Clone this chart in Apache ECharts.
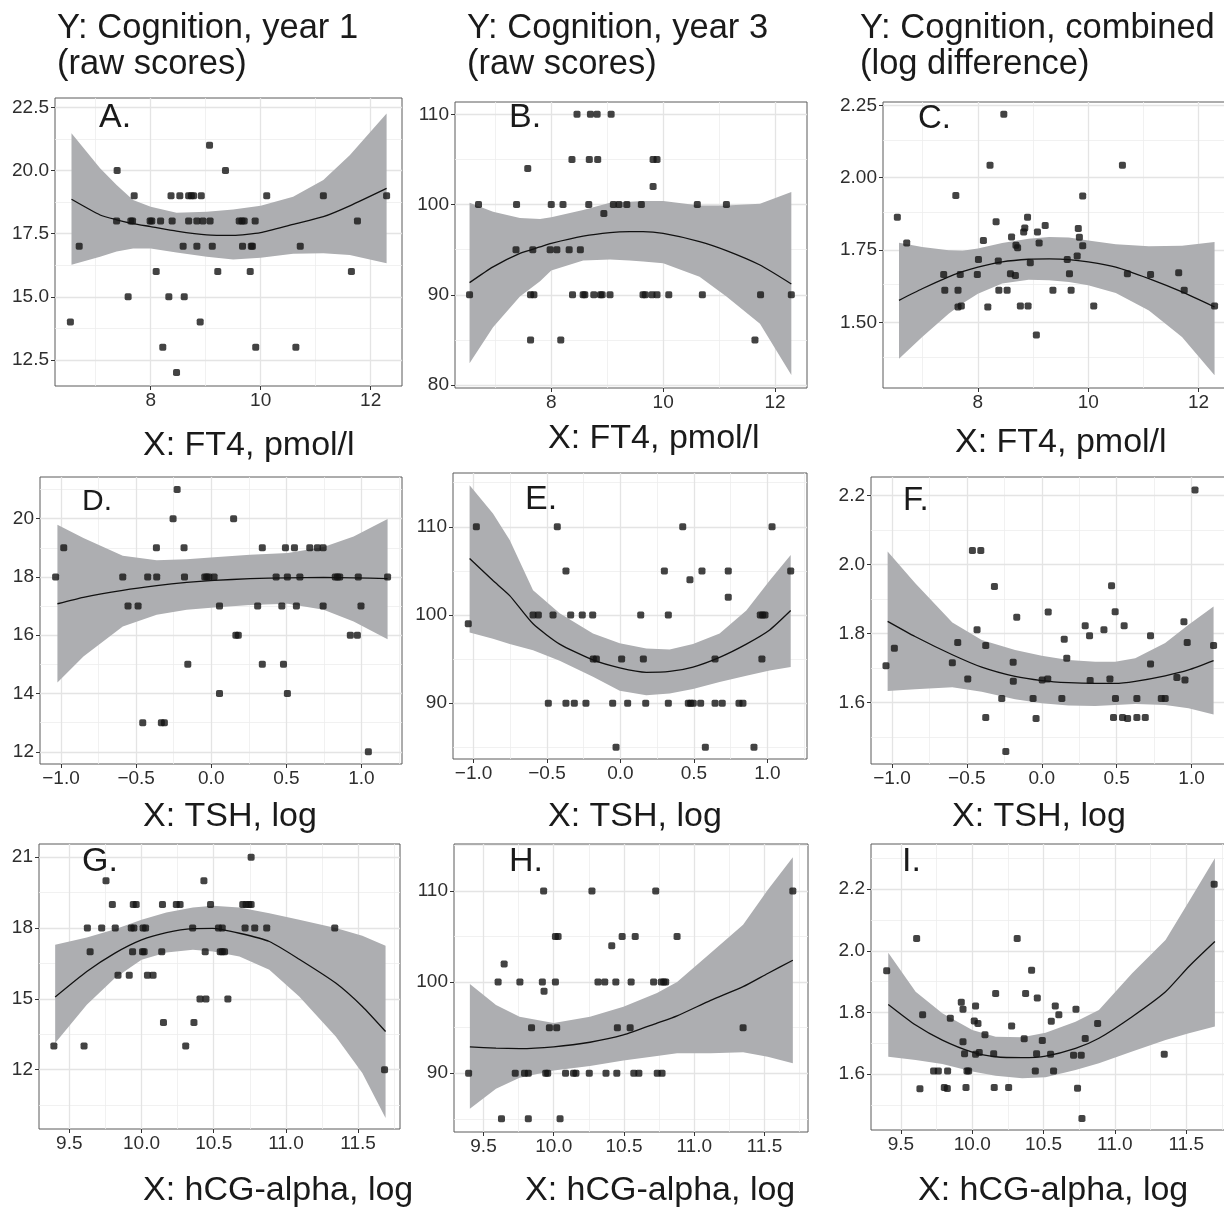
<!DOCTYPE html>
<html>
<head>
<meta charset="utf-8">
<script src="https://cdn.jsdelivr.net/npm/echarts@6/dist/echarts.min.js"></script>
<style>
  html, body { margin: 0; padding: 0; background: #fff; }
  #chart { width: 1224px; height: 1209px; }
</style>
</head>
<body>
<div id="chart"></div>
<script>
// ---- data ----
// row 1: x = FT4
const ptsA = [[6.54,14],[6.70,17],[7.39,20],[7.38,18],[7.59,15],[7.64,18],[7.67,18],[7.70,19],[7.99,18],[8.02,18],[8.10,16],[8.18,18],[8.22,13],[8.33,15],[8.37,19],[8.39,18],[8.47,12],[8.53,19],[8.59,17],[8.61,15],[8.69,18],[8.69,19],[8.74,19],[8.78,19],[8.84,17],[8.84,18],[8.90,14],[8.92,19],[8.95,18],[9.07,21],[9.08,18],[9.12,17],[9.22,16],[9.36,20],[9.61,18],[9.66,18],[9.70,18],[9.67,17],[9.81,16],[9.83,17],[9.85,17],[9.90,18],[9.91,13],[10.11,19],[10.64,13],[10.72,17],[11.14,19],[11.65,16],[11.76,18],[12.29,19]];
const fitAx = [6.56, 7.08, 7.38, 7.68, 8.0, 8.47, 9.02, 9.50, 10.0, 10.59, 11.14, 11.62, 12.29];
const fitA = [18.86, 18.24, 18.05, 17.9, 17.78, 17.6, 17.45, 17.43, 17.54, 17.87, 18.17, 18.6, 19.29];
const hiA = [21.47, 20.09, 19.43, 18.83, 18.57, 18.33, 18.37, 18.46, 18.6, 18.96, 19.62, 20.6, 22.26];
const loA = [16.27, 16.59, 16.79, 16.91, 16.91, 16.75, 16.59, 16.48, 16.55, 16.7, 16.72, 16.66, 16.33];

const ptsB = [[6.54,90],[6.70,100],[7.38,100],[7.37,95],[7.58,104],[7.63,90],[7.69,90],[7.63,85],[7.67,95],[7.98,95],[8.00,100],[8.10,95],[8.17,85],[8.21,100],[8.32,95],[8.37,105],[8.38,90],[8.46,110],[8.52,95],[8.57,90],[8.60,90],[8.67,100],[8.68,105],[8.70,110],[8.76,90],[8.82,110],[8.83,105],[8.88,90],[8.91,90],[8.94,99],[9.05,90],[9.07,110],[9.11,100],[9.21,100],[9.35,100],[9.61,100],[9.64,90],[9.68,90],[9.80,90],[9.82,102],[9.82,105],[9.89,105],[9.89,90],[10.10,90],[10.61,100],[10.70,90],[11.13,100],[11.64,85],[11.74,90],[12.29,90]];
const fitBx = [6.54, 6.96, 7.44, 7.80, 8.0, 8.57, 9.05, 9.40, 9.64, 10.0, 10.65, 11.13, 11.73, 12.29];
const fitB = [91.35, 93.1, 94.6, 95.3, 95.7, 96.5, 96.9, 97.0, 97.0, 96.8, 95.9, 94.9, 93.3, 91.2];
const hiB = [100.2, 99.2, 98.5, 98.4, 98.6, 99.4, 100.2, 100.3, 100.4, 100.4, 99.9, 99.9, 100.1, 101.4];
const loB = [82.4, 86.4, 89.8, 91.5, 92.7, 93.8, 93.9, 93.8, 93.7, 93.5, 92.0, 89.8, 86.8, 81.1];

const ptsC = [[6.54,1.863],[6.71,1.774],[7.38,1.665],[7.40,1.611],[7.60,1.938],[7.64,1.611],[7.64,1.553],[7.68,1.665],[7.70,1.556],[7.99,1.665],[8.01,1.717],[8.10,1.783],[8.18,1.553],[8.22,2.043],[8.33,1.848],[8.37,1.712],[8.38,1.611],[8.47,2.219],[8.53,1.611],[8.59,1.668],[8.61,1.795],[8.68,1.662],[8.69,1.766],[8.72,1.758],[8.77,1.556],[8.83,1.812],[8.85,1.826],[8.90,1.863],[8.91,1.556],[8.95,1.706],[9.06,1.456],[9.08,1.812],[9.11,1.774],[9.22,1.835],[9.36,1.611],[9.62,1.717],[9.66,1.668],[9.69,1.611],[9.80,1.729],[9.82,1.824],[9.84,1.794],[9.90,1.765],[9.90,1.937],[10.10,1.556],[10.62,2.043],[10.71,1.668],[11.13,1.665],[11.64,1.671],[11.74,1.611],[12.29,1.556]];
const fitCx = [6.57, 6.99, 7.47, 7.72, 8.0, 8.44, 8.92, 9.29, 9.65, 10.0, 10.5, 11.1, 11.7, 12.29];
const fitC = [1.576, 1.616, 1.657, 1.675, 1.691, 1.709, 1.718, 1.719, 1.717, 1.709, 1.691, 1.651, 1.605, 1.553];
const hiC = [1.775, 1.760, 1.749, 1.747, 1.755, 1.774, 1.789, 1.795, 1.793, 1.783, 1.770, 1.763, 1.765, 1.778];
const loC = [1.374, 1.449, 1.530, 1.565, 1.599, 1.634, 1.647, 1.645, 1.639, 1.628, 1.601, 1.541, 1.449, 1.317];

// row 2: x = TSH, log
const ptsD = [[-1.036,18],[-0.982,19],[-0.589,18],[-0.554,17],[-0.487,17],[-0.456,13],[-0.423,18],[-0.365,19],[-0.363,18],[-0.332,13],[-0.312,13],[-0.254,20],[-0.227,21],[-0.181,19],[-0.178,18],[-0.156,15],[-0.043,18],[-0.030,18],[-0.016,18],[0.019,18],[0.055,17],[0.055,14],[0.149,20],[0.164,16],[0.180,16],[0.309,17],[0.340,19],[0.340,15],[0.432,18],[0.470,17],[0.481,15],[0.494,19],[0.507,18],[0.507,14],[0.554,19],[0.567,17],[0.590,18],[0.656,19],[0.707,19],[0.745,19],[0.745,17],[0.826,18],[0.841,18],[0.855,18],[0.926,16],[0.973,16],[0.979,18],[0.997,17],[1.046,12],[1.174,18]];
const fitDx = [-1.024, -0.851, -0.589, -0.363, -0.163, 0.019, 0.259, 0.510, 0.748, 0.948, 1.174];
const fitD = [17.08, 17.30, 17.54, 17.70, 17.81, 17.88, 17.94, 17.97, 17.98, 17.97, 17.94];
const hiD = [19.79, 19.34, 18.73, 18.57, 18.61, 18.68, 18.76, 18.82, 19.03, 19.39, 19.99];
const loD = [14.38, 15.27, 16.30, 16.70, 16.87, 16.95, 17.04, 17.08, 16.87, 16.47, 15.86];

const ptsE = [[-1.036,99],[-0.981,110],[-0.595,100],[-0.559,100],[-0.491,90],[-0.459,100],[-0.430,110],[-0.371,105],[-0.371,90],[-0.339,100],[-0.314,90],[-0.260,100],[-0.235,90],[-0.189,100],[-0.185,95],[-0.164,95],[-0.053,90],[-0.030,85],[0.008,95],[0.049,90],[0.138,100],[0.156,95],[0.172,90],[0.299,105],[0.326,100],[0.326,90],[0.424,110],[0.462,90],[0.478,90],[0.496,90],[0.473,104],[0.546,90],[0.555,105],[0.578,85],[0.644,95],[0.644,90],[0.693,90],[0.734,105],[0.734,102],[0.807,90],[0.834,90],[0.909,85],[0.952,100],[0.968,100],[0.984,100],[0.963,95],[1.032,110],[1.159,105]];
const fitEx = [-1.027, -0.868, -0.754, -0.595, -0.414, -0.187, -0.005, 0.176, 0.335, 0.494, 0.675, 0.857, 1.016, 1.159];
const fitE = [106.4, 103.9, 102.2, 99.0, 96.7, 94.9, 94.0, 93.5, 93.6, 94.1, 95.2, 96.7, 98.3, 100.5];
const hiE = [114.7, 111.5, 108.5, 102.8, 100.2, 97.9, 96.8, 96.2, 96.1, 96.7, 97.9, 100.5, 103.9, 106.8];
const loE = [98.0, 97.3, 96.7, 96.0, 94.8, 93.0, 91.4, 90.9, 91.1, 91.6, 92.4, 93.1, 93.7, 94.1];

const ptsF = [[-1.040,1.706],[-0.984,1.757],[-0.597,1.715],[-0.561,1.774],[-0.494,1.668],[-0.463,2.041],[-0.432,1.811],[-0.407,2.041],[-0.374,1.765],[-0.374,1.556],[-0.316,1.936],[-0.267,1.611],[-0.240,1.457],[-0.191,1.716],[-0.190,1.661],[-0.167,1.847],[-0.058,1.611],[-0.038,1.553],[0.003,1.665],[0.040,1.668],[0.043,1.862],[0.134,1.611],[0.150,1.783],[0.167,1.728],[0.290,1.822],[0.319,1.793],[0.323,1.663],[0.415,1.811],[0.455,1.668],[0.466,1.938],[0.479,1.556],[0.490,1.863],[0.492,1.611],[0.539,1.556],[0.550,1.822],[0.573,1.553],[0.635,1.611],[0.635,1.556],[0.691,1.556],[0.726,1.793],[0.726,1.711],[0.798,1.611],[0.824,1.611],[0.902,1.672],[0.949,1.834],[0.956,1.665],[0.971,1.774],[1.023,2.216],[1.147,1.765]];
const fitFx = [-1.029, -0.846, -0.597, -0.401, -0.178, 0.0, 0.178, 0.357, 0.490, 0.624, 0.824, 0.980, 1.147];
const fitF = [1.835, 1.791, 1.738, 1.702, 1.675, 1.663, 1.657, 1.655, 1.655, 1.661, 1.677, 1.694, 1.721];
const hiF = [2.038, 1.946, 1.832, 1.781, 1.752, 1.735, 1.723, 1.718, 1.718, 1.728, 1.772, 1.825, 1.878];
const loF = [1.633, 1.638, 1.644, 1.631, 1.609, 1.597, 1.591, 1.589, 1.592, 1.595, 1.592, 1.583, 1.565];

// row 3: x = hCG-alpha, log
const ptsG = [[9.393,13],[9.602,13],[9.625,18],[9.644,17],[9.724,18],[9.754,20],[9.798,19],[9.818,18],[9.837,16],[9.915,16],[9.929,18],[9.938,17],[9.943,19],[9.947,18],[9.963,19],[10.007,17],[10.018,17],[10.011,18],[10.028,18],[10.041,16],[10.080,16],[10.140,17],[10.145,19],[10.152,14],[10.241,19],[10.267,19],[10.306,13],[10.354,18],[10.363,14],[10.405,15],[10.432,20],[10.441,17],[10.446,15],[10.478,19],[10.533,18],[10.559,18],[10.545,17],[10.559,17],[10.575,17],[10.598,15],[10.701,19],[10.724,19],[10.743,19],[10.759,19],[10.717,18],[10.759,21],[10.784,18],[10.867,18],[11.338,18],[11.683,12]];
const fitGx = [9.402, 9.621, 9.816, 10.0, 10.172, 10.356, 10.494, 10.678, 10.885, 11.092, 11.345, 11.529, 11.690];
const fitG = [15.08, 16.16, 16.94, 17.50, 17.81, 17.98, 17.99, 17.78, 17.43, 16.68, 15.67, 14.68, 13.62];
const hiG = [17.29, 17.60, 17.95, 18.35, 18.66, 18.87, 18.95, 18.87, 18.63, 18.35, 18.00, 17.67, 17.25];
const loG = [13.13, 14.75, 15.88, 16.66, 16.97, 17.08, 17.01, 16.80, 16.23, 15.10, 13.41, 11.86, 9.96];

const ptsH = [[9.394,90],[9.604,100],[9.628,85],[9.647,102],[9.726,90],[9.759,100],[9.792,90],[9.819,90],[9.819,85],[9.842,95],[9.919,100],[9.928,110],[9.931,99],[9.943,90],[9.957,90],[9.969,95],[10.012,100],[10.012,105],[10.031,105],[10.021,95],[10.045,85],[10.084,90],[10.141,90],[10.158,90],[10.253,90],[10.272,110],[10.315,100],[10.363,100],[10.372,90],[10.413,104],[10.442,100],[10.449,90],[10.453,95],[10.487,105],[10.544,95],[10.551,100],[10.570,90],[10.580,105],[10.606,90],[10.711,100],[10.726,110],[10.737,90],[10.771,90],[10.766,100],[10.783,100],[10.797,100],[10.878,105],[11.348,95],[11.702,110]];
const fitHx = [9.403, 9.589, 9.757, 10.0, 10.258, 10.496, 10.735, 10.878, 11.117, 11.348, 11.523, 11.702];
const fitH = [92.9, 92.75, 92.7, 92.9, 93.4, 94.2, 95.5, 96.3, 98.0, 99.5, 100.95, 102.4];
const hiH = [99.8, 97.5, 96.2, 95.5, 96.2, 97.3, 98.8, 100.0, 103.2, 106.3, 110.1, 113.7];
const loH = [86.1, 88.3, 89.5, 90.3, 90.8, 91.4, 91.9, 92.2, 92.2, 92.3, 91.8, 91.1];

const ptsI = [[9.400,1.935],[9.610,2.040],[9.633,1.552],[9.652,1.792],[9.729,1.610],[9.762,1.610],[9.804,1.556],[9.825,1.553],[9.827,1.610],[9.846,1.781],[9.923,1.833],[9.935,1.810],[9.935,1.705],[9.946,1.666],[9.956,1.556],[9.963,1.610],[9.974,1.610],[10.014,1.772],[10.023,1.821],[10.023,1.664],[10.040,1.764],[10.049,1.670],[10.089,1.727],[10.150,1.666],[10.154,1.556],[10.164,1.861],[10.255,1.556],[10.276,1.756],[10.315,2.040],[10.364,1.714],[10.374,1.861],[10.416,1.937],[10.442,1.610],[10.451,1.666],[10.456,1.847],[10.491,1.709],[10.549,1.664],[10.554,1.771],[10.570,1.610],[10.582,1.821],[10.607,1.792],[10.710,1.661],[10.727,1.810],[10.738,1.554],[10.764,1.661],[10.769,1.455],[10.792,1.715],[10.879,1.764],[11.346,1.664],[11.696,2.216]];
const fitIx = [9.411, 9.603, 9.790, 10.0, 10.164, 10.350, 10.514, 10.724, 10.888, 11.121, 11.355, 11.519, 11.701];
const fitI = [1.826, 1.759, 1.710, 1.671, 1.656, 1.653, 1.658, 1.683, 1.716, 1.786, 1.867, 1.949, 2.030];
const hiI = [1.994, 1.867, 1.797, 1.743, 1.721, 1.719, 1.734, 1.770, 1.808, 1.927, 2.035, 2.160, 2.301];
const loI = [1.656, 1.645, 1.632, 1.608, 1.594, 1.586, 1.589, 1.613, 1.635, 1.673, 1.710, 1.732, 1.754];

// tick values
const xTicksFT4 = [8, 10, 12], xMinorFT4 = [7, 9, 11];
const xTicksTSH = [-1, -0.5, 0, 0.5, 1], xMinorTSH = [-0.75, -0.25, 0.25, 0.75, 1.25];
const xTicksHCG = [9.5, 10, 10.5, 11, 11.5], xMinorHCG = [9.75, 10.25, 10.75, 11.25, 11.75];
const yTicksA = [12.5, 15, 17.5, 20, 22.5], yMinorA = [13.75, 16.25, 18.75, 21.25];
const yTicksB = [80, 90, 100, 110], yMinorB = [85, 95, 105];
const yTicksC = [1.5, 1.75, 2, 2.25], yMinorC = [1.375, 1.625, 1.875, 2.125];
const yTicksD = [12, 14, 16, 18, 20], yMinorD = [13, 15, 17, 19, 21];
const yTicksE = [90, 100, 110], yMinorE = [85, 95, 105, 115];
const yTicksF = [1.6, 1.8, 2.0, 2.2], yMinorF = [1.5, 1.7, 1.9, 2.1];
const yTicksG = [12, 15, 18, 21], yMinorG = [10.5, 13.5, 16.5, 19.5];
const yTicksH = [90, 100, 110], yMinorH = [85, 95, 105, 115];
const yTicksI = [1.6, 1.8, 2.0, 2.2], yMinorI = [1.5, 1.7, 1.9, 2.1, 2.3];

const colTitles = [['Y: Cognition, year 1', '(raw scores)'], ['Y: Cognition, year 3', '(raw scores)'], ['Y: Cognition, combined', '(log difference)']];
const xTitles = ['X: FT4, pmol/l', 'X: TSH, log', 'X: hCG-alpha, log'];

// ---- layout ----
const FONT = '"Liberation Sans", Arial, Helvetica, sans-serif';
const BAND = '#adaeb1';
const fmt0 = v => String(v);
const fmt1 = v => (v < 0 ? '\u2212' : '') + Math.abs(v).toFixed(1);
const fmt2 = v => v.toFixed(2);

const panels = [
  { letter: 'A.', pts: ptsA, fx: fitAx, fy: fitA, lo: loA, hi: hiA, rect: [55, 98, 347, 288], xr: [6.26, 12.57], yr: [11.47, 22.87], xt: xTicksFT4, xm: xMinorFT4, yt: yTicksA, ym: yMinorA, xf: fmt0, yf: fmt1, lp: [99, 118, 34] },
  { letter: 'B.', pts: ptsB, fx: fitBx, fy: fitB, lo: loB, hi: hiB, rect: [455, 102, 352, 286], xr: [6.28, 12.57], yr: [79.67, 111.37], xt: xTicksFT4, xm: xMinorFT4, yt: yTicksB, ym: yMinorB, xf: fmt0, yf: fmt0, lp: [509, 118, 34] },
  { letter: 'C.', pts: ptsC, fx: fitCx, fy: fitC, lo: loC, hi: hiC, rect: [883, 102, 347, 286], xr: [6.28, 12.57], yr: [1.273, 2.2615], xt: xTicksFT4, xm: xMinorFT4, yt: yTicksC, ym: yMinorC, xf: fmt0, yf: fmt2, lp: [918, 119, 33] },
  { letter: 'D.', pts: ptsD, fx: fitDx, fy: fitD, lo: loD, hi: hiD, rect: [40, 477, 362, 287], xr: [-1.14, 1.27], yr: [11.58, 21.43], xt: xTicksTSH, xm: xMinorTSH, yt: yTicksD, ym: yMinorD, xf: fmt1, yf: fmt0, lp: [82, 502, 30] },
  { letter: 'E.', pts: ptsE, fx: fitEx, fy: fitE, lo: loE, hi: hiE, rect: [453, 473, 354, 286], xr: [-1.14, 1.27], yr: [83.67, 116.1], xt: xTicksTSH, xm: xMinorTSH, yt: yTicksE, ym: yMinorE, xf: fmt1, yf: fmt0, lp: [525, 500, 34] },
  { letter: 'F.', pts: ptsF, fx: fitFx, fy: fitF, lo: loF, hi: hiF, rect: [871, 477, 361, 287], xr: [-1.14, 1.27], yr: [1.421, 2.254], xt: xTicksTSH, xm: xMinorTSH, yt: yTicksF, ym: yMinorF, xf: fmt1, yf: fmt1, lp: [903, 501, 33] },
  { letter: 'G.', pts: ptsG, fx: fitGx, fy: fitG, lo: loG, hi: hiG, rect: [39, 844, 361, 285], xr: [9.29, 11.79], yr: [9.49, 21.56], xt: xTicksHCG, xm: xMinorHCG, yt: yTicksG, ym: yMinorG, xf: fmt1, yf: fmt0, lp: [82, 862, 34] },
  { letter: 'H.', pts: ptsH, fx: fitHx, fy: fitH, lo: loH, hi: hiH, rect: [454, 844, 354, 288], xr: [9.29, 11.81], yr: [83.55, 115.16], xt: xTicksHCG, xm: xMinorHCG, yt: yTicksH, ym: yMinorH, xf: fmt1, yf: fmt0, lp: [509, 862, 34] },
  { letter: 'I.', pts: ptsI, fx: fitIx, fy: fitI, lo: loI, hi: hiI, rect: [871, 844, 358, 286], xr: [9.29, 11.80], yr: [1.418, 2.347], xt: xTicksHCG, xm: xMinorHCG, yt: yTicksI, ym: yMinorI, xf: fmt1, yf: fmt1, lp: [902, 862, 34] }
];

const titlePos = [[57, 467, 860], [28, 64]];
const xTitlePos = [[[143, 446], [548, 439], [955, 443]], [[143, 817], [548, 817], [952, 817]], [[143, 1191], [525, 1191], [918, 1191]]];

const grids = [], xAxes = [], yAxes = [], series = [], graphics = [];

const major = { color: '#e4e4e4', width: 1.3, type: 'solid' };
const minor = { color: '#eeeeee', width: 0.8, type: 'solid' };
const tickText = { fontSize: 19, fontFamily: FONT, color: '#2e2e2e' };

function axisCommon(ticks, fmt) {
  return {
    type: 'value',
    axisLine: { show: false, onZero: false },
    axisTick: { show: true, length: 4, customValues: ticks, lineStyle: { color: '#333', width: 1 } },
    axisLabel: {
      customValues: ticks,
      formatter: v => '{t|' + fmt(v) + '}',
      fontSize: 19, fontFamily: FONT, color: '#2e2e2e',
      rich: { t: tickText }
    },
    splitLine: { show: false }
  };
}

panels.forEach((p, i) => {
  grids.push({
    left: p.rect[0], top: p.rect[1], width: p.rect[2], height: p.rect[3],
    show: true, backgroundColor: '#fff', borderColor: '#5a5a5a', borderWidth: 1,
    containLabel: false, outerBoundsMode: 'none'
  });
  const xa = axisCommon(p.xt, p.xf);
  xa.gridIndex = i; xa.min = p.xr[0]; xa.max = p.xr[1]; xa.position = 'bottom';
  xa.axisLabel.margin = 5;
  xAxes.push(xa);
  const ya = axisCommon(p.yt, p.yf);
  ya.gridIndex = i; ya.min = p.yr[0]; ya.max = p.yr[1]; ya.position = 'left';
  ya.axisLabel.margin = 6;
  yAxes.push(ya);

  const gridLines = []
    .concat(p.xm.map(v => ({ xAxis: v, lineStyle: minor })))
    .concat(p.ym.map(v => ({ yAxis: v, lineStyle: minor })))
    .concat(p.xt.map(v => ({ xAxis: v, lineStyle: major })))
    .concat(p.yt.map(v => ({ yAxis: v, lineStyle: major })));

  // confidence band
  series.push({
    type: 'custom', xAxisIndex: i, yAxisIndex: i, z: 2, silent: true,
    data: p.fx.map((x, k) => [x, p.lo[k], p.hi[k]]),
    encode: { x: 0, y: [1, 2] },
    renderItem: function (params, api) {
      if (params.dataIndex !== 0) return null;
      const pts = [];
      for (let k = 0; k < p.fx.length; k++) pts.push(api.coord([p.fx[k], p.hi[k]]));
      for (let k = p.fx.length - 1; k >= 0; k--) pts.push(api.coord([p.fx[k], p.lo[k]]));
      return { type: 'polygon', shape: { points: pts }, style: { fill: BAND } };
    },
    markLine: {
      silent: true, symbol: ['none', 'none'], animation: false, z: 1,
      label: { show: false }, emphasis: { disabled: true },
      data: gridLines
    }
  });
  // fitted curve
  series.push({
    type: 'line', xAxisIndex: i, yAxisIndex: i, z: 3, silent: true,
    data: p.fx.map((x, k) => [x, p.fy[k]]),
    smooth: 0.2, showSymbol: false, symbol: 'none',
    lineStyle: { color: '#111', width: 1.3 }
  });
  // observations
  series.push({
    type: 'scatter', xAxisIndex: i, yAxisIndex: i, z: 4, silent: true,
    data: p.pts, symbol: 'roundRect', symbolSize: 7,
    itemStyle: { color: '#141414' }
  });

  graphics.push({
    type: 'text', x: p.lp[0], y: p.lp[1], z: 10,
    style: { text: p.letter, font: p.lp[2] + 'px ' + FONT, fill: '#1a1a1a', verticalAlign: 'middle', textVerticalAlign: 'middle' }
  });
});

colTitles.forEach((lines, c) => {
  lines.forEach((t, r) => {
    graphics.push({
      type: 'text', x: titlePos[0][c], y: titlePos[1][r],
      style: { text: t, font: '34.5px ' + FONT, fill: '#1a1a1a', verticalAlign: 'middle', textVerticalAlign: 'middle' }
    });
  });
});
xTitles.forEach((t, r) => {
  xTitlePos[r].forEach(pos => {
    graphics.push({
      type: 'text', x: pos[0], y: pos[1],
      style: { text: t, font: '34px ' + FONT, fill: '#1a1a1a', verticalAlign: 'middle', textVerticalAlign: 'middle' }
    });
  });
});

const chart = echarts.init(document.getElementById('chart'), null, { renderer: 'canvas' });
chart.setOption({
  animation: false,
  backgroundColor: '#fff',
  grid: grids,
  xAxis: xAxes,
  yAxis: yAxes,
  series: series,
  graphic: graphics
});
</script>
</body>
</html>
